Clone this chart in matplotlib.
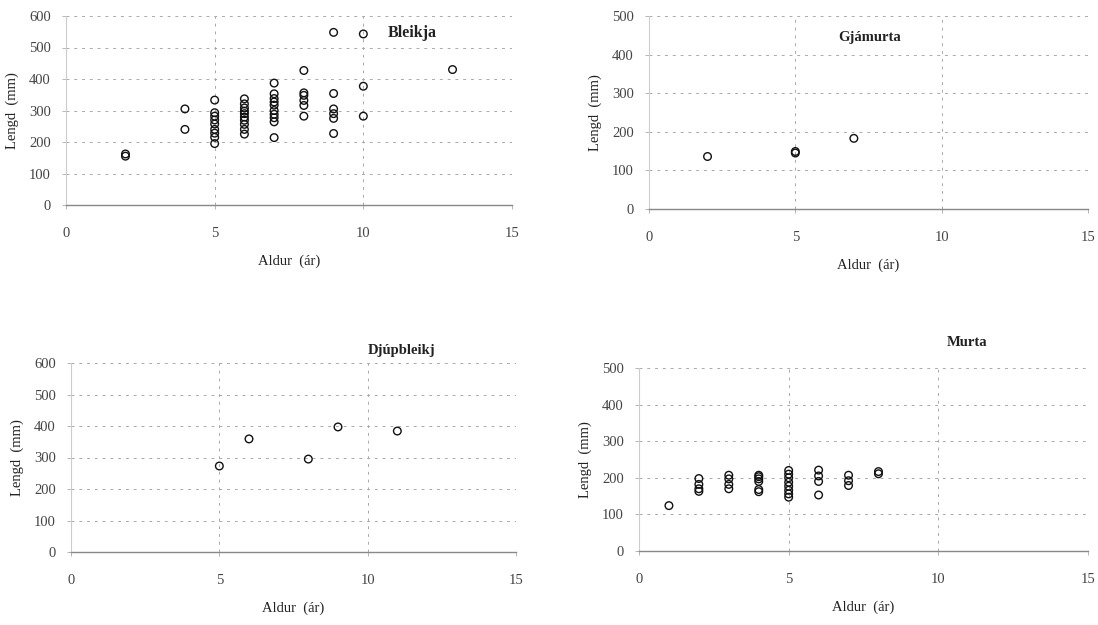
import matplotlib
matplotlib.use("Agg")
import matplotlib.pyplot as plt

# ---- data ----
bleikja_age = [2, 2, 4, 4,
               5, 5, 5, 5, 5, 5, 5, 5, 5,
               6, 6, 6, 6, 6, 6, 6, 6, 6, 6,
               7, 7, 7, 7, 7, 7, 7, 7, 7, 7,
               8, 8, 8, 8, 8, 8,
               9, 9, 9, 9, 9, 9,
               10, 10, 10, 13]
bleikja_len = [162, 155, 305, 240,
               333, 293, 282, 270, 257, 240, 228, 215, 195,
               337, 321, 308, 298, 290, 279, 269, 256, 240, 225,
               387, 353, 338, 327, 317, 300, 288, 277, 264, 214,
               427, 356, 348, 332, 316, 282,
               548, 354, 305, 290, 275, 227,
               543, 377, 282, 430]

gja_age = [2, 5, 5, 7]
gja_len = [136, 145, 149, 183]

djup_age = [5, 6, 8, 9, 11]
djup_len = [273, 359, 295, 397, 384]

murta_age = [1,
             2, 2, 2, 2,
             3, 3, 3, 3,
             4, 4, 4, 4, 4, 4,
             5, 5, 5, 5, 5, 5, 5, 5,
             6, 6, 6, 6,
             7, 7, 7,
             8, 8]
murta_len = [124,
             198, 182, 170, 163,
             207, 197, 182, 170,
             207, 203, 197, 190, 168, 162,
             220, 210, 200, 188, 177, 166, 156, 147,
             221, 205, 190, 153,
             207, 192, 179,
             217, 211]

x_ticks = [0, 5, 10, 15]
x_label = "Aldur  (ár)"
y_label = "Lengd  (mm)"

W, H = 1098, 625
fig = plt.figure(figsize=(W / 100, H / 100), dpi=100)
fig.patch.set_facecolor("white")
plt.rcParams["font.family"] = ["Liberation Serif", "DejaVu Serif"]


def make_ax(left, right, top, bottom, ymax, ages, lens):
    ax = fig.add_axes([left / W, 1 - bottom / H, (right - left) / W, (bottom - top) / H])
    ax.set_xlim(0, 15)
    ax.set_ylim(0, ymax)
    ax.set_xticks(x_ticks)
    ax.set_yticks(list(range(0, ymax + 1, 100)))
    for s in ["top", "right"]:
        ax.spines[s].set_visible(False)
    ax.spines["left"].set_color("#cccccc")
    ax.spines["left"].set_linewidth(0.8)
    ax.spines["bottom"].set_color("#888888")
    ax.spines["bottom"].set_linewidth(1.0)
    ax.grid(True, color="#aaaaaa", linestyle=(0, (3, 5)), linewidth=0.7)
    ax.set_axisbelow(True)
    ax.tick_params(axis="both", colors="#aaaaaa", labelcolor="#444444",
                   labelsize=10.5, length=3, width=0.6)
    ax.tick_params(axis="x", pad=13)
    ax.tick_params(axis="y", pad=8)
    ax.scatter(ages, lens, s=30, facecolors="none", edgecolors="#111111",
               linewidths=1.0, clip_on=False, zorder=3)
    ax.set_xlabel(x_label, fontsize=10.5, color="#222222", labelpad=10)
    ax.set_ylabel(y_label, fontsize=10.5, color="#222222", labelpad=7)
    return ax


a1 = make_ax(66, 512, 16, 205, 600, bleikja_age, bleikja_len)
a2 = make_ax(649, 1088, 16, 209, 500, gja_age, gja_len)
a3 = make_ax(71, 516, 363, 552, 600, djup_age, djup_len)
a4 = make_ax(639, 1088, 368, 551, 500, murta_age, murta_len)


def ftext(x, y, s, size=10.5):
    fig.text(x / W, 1 - y / H, s, fontsize=size, fontweight="bold",
             color="#222222", ha="left", va="center")


ftext(388, 33, "Bleikja", 11.5)
ftext(838, 37, "Gjámurta")
ftext(368, 350, "Djúpbleikj")
ftext(947, 342, "Murta")

fig.savefig("out.png", dpi=100, facecolor="white")
